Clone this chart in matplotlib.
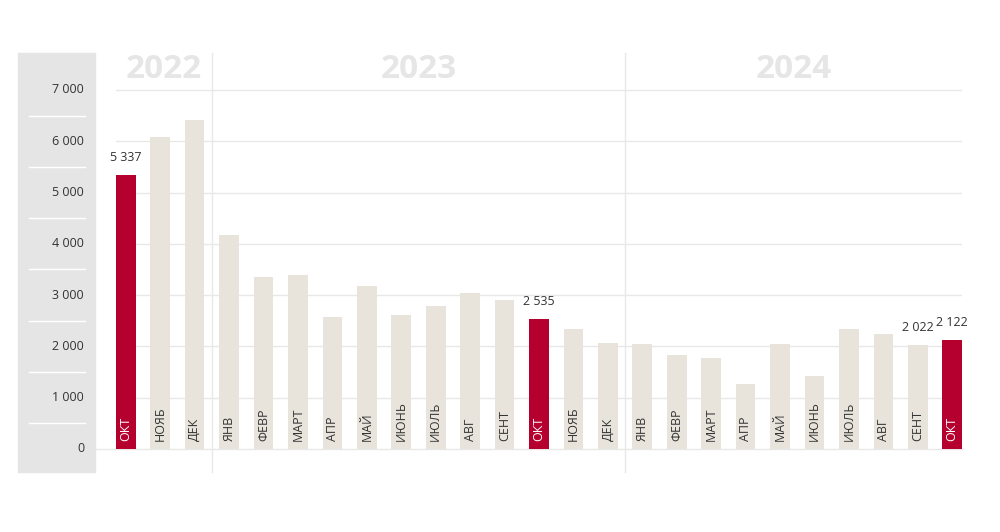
import matplotlib.pyplot as plt
import matplotlib.transforms as mtransforms
from matplotlib.patches import Rectangle
from matplotlib.lines import Line2D

plt.rcParams['font.family'] = ['Open Sans', 'DejaVu Sans']

# data
months = ['ОКТ', 'НОЯБ', 'ДЕК',
          'ЯНВ', 'ФЕВР', 'МАРТ', 'АПР', 'МАЙ', 'ИЮНЬ', 'ИЮЛЬ', 'АВГ', 'СЕНТ', 'ОКТ', 'НОЯБ', 'ДЕК',
          'ЯНВ', 'ФЕВР', 'МАРТ', 'АПР', 'МАЙ', 'ИЮНЬ', 'ИЮЛЬ', 'АВГ', 'СЕНТ', 'ОКТ']
values = [5337, 6084, 6407,
          4164, 3346, 3401, 2578, 3173, 2621, 2788, 3048, 2913, 2535, 2342, 2063,
          2050, 1840, 1766, 1270, 2050, 1431, 2348, 2236, 2022, 2122]
highlight = [0, 12, 24]
labeled = {0: '5 337', 12: '2 535', 23: '2 022', 24: '2 122'}
years = ['2022', '2023', '2024']
year_breaks = [2.5, 14.5]
yticks = [0, 1000, 2000, 3000, 4000, 5000, 6000, 7000]
ytick_labels = ['0', '1 000', '2 000', '3 000', '4 000', '5 000', '6 000', '7 000']

RED = '#b5002f'
BEIGE = '#e8e4dc'
GRID = '#e8e8e8'
TEXT = '#333333'

W, H = 1000, 532
fig = plt.figure(figsize=(10, 5.32), dpi=100)

# gray band on the left
fig.patches.append(Rectangle((18 / W, 1 - 472 / H), 77 / W, (472 - 53) / H,
                             transform=fig.transFigure, color='#e5e5e5', zorder=-5))

ax = fig.add_axes([116 / W, 1 - 449 / H, (962 - 116) / W, (449 - 53) / H])
ax.set_facecolor('none')
bar_w = 0.57
ax.set_xlim(-bar_w / 2, len(values) - 1 + bar_w / 2)
ax.set_ylim(0, 7721)
for s in ax.spines.values():
    s.set_visible(False)
ax.set_xticks([])
ax.set_yticks([])

for v in yticks[1:]:
    ax.axhline(v, color=GRID, lw=1, zorder=0)

# zero line from gray band to the end
trans_fx = mtransforms.blended_transform_factory(fig.transFigure, ax.transData)
ax.add_line(Line2D([95 / W, 962 / W], [0, 0], transform=trans_fx, color=GRID,
                   lw=1, zorder=0, clip_on=False))

# year separators
for xb in year_breaks:
    ax.axvline(xb, ymin=-(472 - 449) / (449 - 53), ymax=1, color=GRID, lw=1,
               zorder=0, clip_on=False)

colors = [RED if i in highlight else BEIGE for i in range(len(values))]
x = list(range(len(values)))
ax.bar(x, values, width=bar_w, color=colors, zorder=2)

for i, m in enumerate(months):
    ax.annotate(m, (i, 0), xytext=(0, 6), textcoords='offset points',
                rotation=90, ha='center', va='bottom', fontsize=9,
                color='white' if i in highlight else TEXT, zorder=3)

for i, lab in labeled.items():
    ax.annotate(lab, (i, values[i]), xytext=(0, 8), textcoords='offset points',
                ha='center', va='bottom', fontsize=9, color=TEXT, zorder=3)

# year titles
centers = [(-bar_w / 2 + year_breaks[0]) / 2,
           (year_breaks[0] + year_breaks[1]) / 2,
           (year_breaks[1] + len(values) - 1 + bar_w / 2) / 2]
trans_yf = mtransforms.blended_transform_factory(ax.transData, fig.transFigure)
for c, y in zip(centers, years):
    ax.text(c, 1 - 70 / H, y, transform=trans_yf, ha='center', va='center',
            fontsize=24, fontweight='bold', color='#e6e6e6')

# y labels inside the gray band
for v, lab in zip(yticks, ytick_labels):
    ax.text(84 / W, v, lab, transform=trans_fx, ha='right', va='center',
            fontsize=9, color=TEXT, zorder=5)
for v in range(500, 7000, 1000):
    ax.add_line(Line2D([29 / W, 85 / W], [v, v], transform=trans_fx,
                       color='white', lw=1, zorder=5, clip_on=False))

fig.savefig('out.png', dpi=100)
